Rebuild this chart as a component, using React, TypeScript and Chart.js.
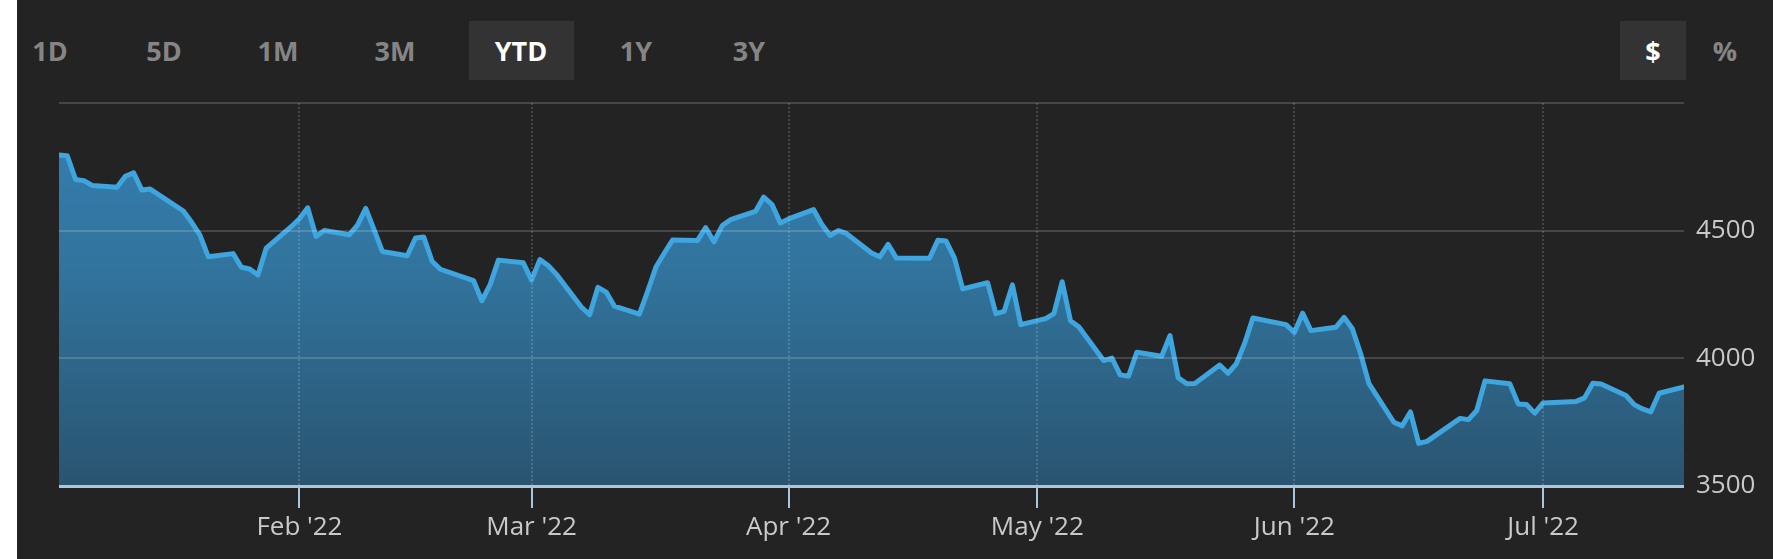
import React, { useEffect, useRef } from "react";
import { Chart, registerables } from "chart.js";

Chart.register(...registerables);

// ---- data (S&P 500 style daily closes, 2022 YTD) ----
const janDates = ["01-03","01-04","01-05","01-06","01-07","01-10","01-11","01-12","01-13","01-14","01-18","01-19","01-20","01-21","01-24","01-25","01-26","01-27","01-28","01-31"];
const janCloses = [4796.56,4793.54,4700.58,4696.05,4677.03,4670.29,4713.07,4726.35,4659.03,4662.85,4577.11,4532.76,4482.73,4397.94,4410.13,4356.45,4349.93,4326.51,4431.85,4515.55];

const febDates = ["02-01","02-02","02-03","02-04","02-07","02-08","02-09","02-10","02-11","02-14","02-15","02-16","02-17","02-18","02-22","02-23","02-24","02-25","02-28"];
const febCloses = [4546.54,4589.38,4477.44,4500.53,4483.87,4521.54,4587.18,4504.08,4418.64,4401.67,4471.07,4475.01,4380.26,4348.87,4304.76,4225.5,4288.7,4384.65,4373.94];

const marDates = ["03-01","03-02","03-03","03-04","03-07","03-08","03-09","03-10","03-11","03-14","03-15","03-16","03-17","03-18","03-21","03-22","03-23","03-24","03-25","03-28","03-29","03-30","03-31"];
const marCloses = [4306.26,4386.54,4363.49,4328.87,4201.09,4170.7,4277.88,4259.52,4204.31,4173.11,4262.45,4357.86,4411.67,4463.12,4461.18,4511.61,4456.24,4520.16,4543.06,4575.52,4631.6,4602.45,4530.41];

const aprDates = ["04-01","04-04","04-05","04-06","04-07","04-08","04-11","04-12","04-13","04-14","04-18","04-19","04-20","04-21","04-22","04-25","04-26","04-27","04-28","04-29"];
const aprCloses = [4545.86,4582.64,4525.12,4481.15,4500.21,4488.28,4412.53,4397.45,4446.59,4392.59,4391.69,4462.21,4459.45,4393.66,4271.78,4296.12,4175.2,4183.96,4287.5,4131.93];

const mayDates = ["05-02","05-03","05-04","05-05","05-06","05-09","05-10","05-11","05-12","05-13","05-16","05-17","05-18","05-19","05-20","05-23","05-24","05-25","05-26","05-27","05-31"];
const mayCloses = [4155.38,4175.48,4300.17,4146.87,4123.34,3991.24,4001.05,3935.18,3930.08,4023.89,4008.01,4088.85,3923.68,3900.79,3901.36,3973.75,3941.48,3978.73,4057.84,4158.24,4132.15];

const junDates = ["06-01","06-02","06-03","06-06","06-07","06-08","06-09","06-10","06-13","06-14","06-15","06-16","06-17","06-21","06-22","06-23","06-24","06-27","06-28","06-29","06-30"];
const junCloses = [4101.23,4176.82,4108.54,4121.43,4160.68,4115.77,4017.82,3900.86,3749.63,3735.48,3789.99,3666.77,3674.84,3764.79,3759.89,3795.73,3911.74,3900.11,3821.55,3818.83,3785.38];

const julDates = ["07-01","07-05","07-06","07-07","07-08","07-11","07-12","07-13","07-14","07-15","07-18"];
const julCloses = [3825.33,3831.39,3845.08,3902.62,3899.38,3854.43,3818.8,3801.78,3790.38,3863.16,3888];

const monthTickDates = ["02-01","03-01","04-01","05-01","06-01","07-01"];
const monthTickLabels = ["Feb '22","Mar '22","Apr '22","May '22","Jun '22","Jul '22"];
const yTickValues = [3500, 4000, 4500];
const yMin = 3500;
const yMax = 5000;
const yStep = 500;

const rangeButtons = ["1D","5D","1M","3M","YTD","1Y","3Y"];
const activeRange = "YTD";
const unitButtons = ["$","%"];
const activeUnit = "$";

// ---- helpers ----
const allDates = [...janDates, ...febDates, ...marDates, ...aprDates, ...mayDates, ...junDates, ...julDates];
const allCloses = [...janCloses, ...febCloses, ...marCloses, ...aprCloses, ...mayCloses, ...junCloses, ...julCloses];

const dayIndex = (md: string) => {
  const [m, d] = md.split("-").map(Number);
  return (Date.UTC(2022, m - 1, d) - Date.UTC(2022, 0, 3)) / 86400000;
};

const FONT = "'Open Sans', 'Noto Sans', sans-serif";
const LABEL_COLOR = "#c9c9c9";
const BASE_COLOR = "#a9c7da";

const rangeCenters = [50, 164, 278, 395, 521, 636, 749];
const unitCenters = [1653, 1725];

export default function App() {
  const canvasRef = useRef<HTMLCanvasElement | null>(null);

  useEffect(() => {
    document.body.style.margin = "0";
    const canvas = canvasRef.current;
    if (!canvas) return;
    const points = allDates.map((d, i) => ({ x: dayIndex(d), y: allCloses[i] }));
    const chart = new Chart(canvas, {
      type: "line",
      data: {
        datasets: [
          {
            data: points,
            borderColor: "#3fa5df",
            borderWidth: 5,
            pointRadius: 0,
            tension: 0,
            borderJoinStyle: "round",
            borderCapStyle: "round",
            fill: "start",
            backgroundColor: (ctx: any) => {
              const c = ctx.chart;
              const a = c.chartArea;
              if (!a) return "rgba(0,0,0,0)";
              const g = c.ctx.createLinearGradient(0, a.top, 0, a.bottom);
              g.addColorStop(0, "#3680b3");
              g.addColorStop(0.45, "#31739c");
              g.addColorStop(1, "#2a5470");
              return g;
            },
          },
        ],
      },
      options: {
        animation: false,
        responsive: false,
        maintainAspectRatio: false,
        events: [],
        layout: { padding: { left: 59, top: 103, right: 0, bottom: 0 }, autoPadding: false },
        plugins: { legend: { display: false }, tooltip: { enabled: false } },
        scales: {
          x: {
            type: "linear",
            min: dayIndex(allDates[0]),
            max: dayIndex(allDates[allDates.length - 1]),
            afterBuildTicks: (s: any) => {
              s.ticks = monthTickDates.map((d) => ({ value: dayIndex(d) }));
            },
            afterFit: (s: any) => {
              s.height = 73;
            },
            ticks: {
              autoSkip: false,
              maxRotation: 0,
              padding: 4,
              color: LABEL_COLOR,
              font: { family: FONT, size: 26 },
              callback: (_v: any, i: number) => monthTickLabels[i],
            },
            grid: {
              color: "rgba(255,255,255,0.16)",
              lineWidth: 2,
              tickLength: 22,
              tickColor: BASE_COLOR,
              tickWidth: 2,
              tickBorderDash: [],
              z: 1,
            },
            border: { display: false, dash: [2, 2] },
          },
          y: {
            position: "right",
            min: yMin,
            max: yMax,
            afterBuildTicks: (s: any) => {
              const t = [];
              for (let v = yMin; v <= yMax; v += yStep) t.push({ value: v });
              s.ticks = t;
            },
            afterFit: (s: any) => {
              s.width = 89;
            },
            ticks: {
              padding: 12,
              color: LABEL_COLOR,
              font: { family: FONT, size: 26 },
              callback: (v: any) => (yTickValues.includes(v) ? String(v) : ""),
            },
            grid: {
              drawTicks: false,
              z: 1,
              color: (ctx: any) =>
                ctx.tick && ctx.tick.value === yMin ? BASE_COLOR : "rgba(255,255,255,0.16)",
              lineWidth: (ctx: any) => (ctx.tick && ctx.tick.value === yMin ? 3 : 2),
            },
            border: { display: false },
          },
        },
      },
    } as any);
    return () => chart.destroy();
  }, []);

  const btnBase: React.CSSProperties = {
    position: "absolute",
    top: 21,
    height: 59,
    display: "flex",
    alignItems: "center",
    justifyContent: "center",
    fontFamily: FONT,
    fontWeight: 700,
    fontSize: 27,
    color: "#858585",
  };

  return (
    <div style={{ position: "relative", width: 1773, height: 559, overflow: "hidden" }}>
      <div
        style={{ position: "absolute", left: 17, top: 0, width: 1756, height: 559, background: "#232323" }}
      />
      {rangeButtons.map((b, i) => (
        <div
          key={b}
          style={{
            ...btnBase,
            left: rangeCenters[i] - 52.5,
            width: 105,
            background: b === activeRange ? "#333333" : "transparent",
            color: b === activeRange ? "#ffffff" : "#858585",
          }}
        >
          {b}
        </div>
      ))}
      {unitButtons.map((b, i) => (
        <div
          key={b}
          style={{
            ...btnBase,
            left: unitCenters[i] - 33,
            width: 66,
            background: b === activeUnit ? "#333333" : "transparent",
            color: b === activeUnit ? "#ffffff" : "#858585",
          }}
        >
          {b}
        </div>
      ))}
      <canvas
        ref={canvasRef}
        width={1773}
        height={559}
        style={{ position: "absolute", left: 0, top: 0, width: 1773, height: 559 }}
      />
    </div>
  );
}
